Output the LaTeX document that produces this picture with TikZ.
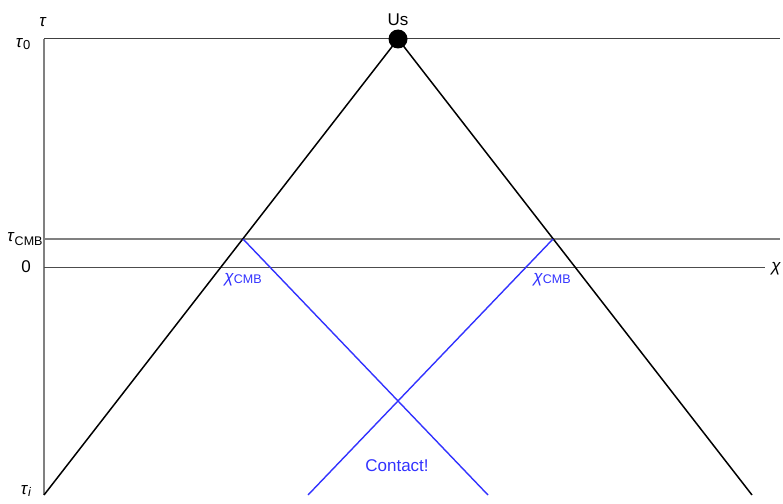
\documentclass[tikz,border=0pt]{standalone}
\usepackage{fontspec}
\setmainfont{Liberation Sans}
\begin{document}
\begin{tikzpicture}[x=1pt,y=-1pt,
  lbl/.style={font=\fontsize{17}{19}\selectfont, inner sep=0pt},
  blu/.style={draw={rgb,255:red,50;green,50;blue,255}, line width=1.4pt},
  worldline/.style={draw=black, line width=1.5pt},
  gridline/.style={draw=black!50, line width=1.1pt}]
\useasboundingbox (0,0) rectangle (783,503);
\definecolor{cblue}{RGB}{50,50,255}
% coordinates
\coordinate (axTop) at (44,39);
\coordinate (axBot) at (44,495);
\coordinate (t0R) at (780,39);
\coordinate (tcL) at (44,239);
\coordinate (tcR) at (780,239);
\coordinate (zL) at (44,267);
\coordinate (zR) at (765,267);
\coordinate (us) at (398,39);
\coordinate (botL) at (44,495);
\coordinate (botR) at (752,495);
\coordinate (pL) at (243,239);
\coordinate (pR) at (553,239);
\coordinate (bL) at (488,495);
\coordinate (bR) at (308,495);
% grid
\draw[gridline] (axTop) -- (axBot);
\draw[draw=black!75, line width=1pt] (axTop) -- (t0R);
\draw[gridline] (tcL) -- (tcR);
\draw[draw=black!70, line width=1pt] (zL) -- (zR);
% world lines
\draw[worldline] (us) -- (botL);
\draw[worldline] (us) -- (botR);
% blue
\draw[blu] (pL) -- (bL);
\draw[blu] (pR) -- (bR);
% dot
\fill[black] (us) circle (9.5);
% labels
\node[lbl] (lus) at (398,20) {Us};
\node[lbl] (ltau) at (43,22) {\textit{τ}};
\node[lbl] (lt0) at (23,44) {\textit{τ}\raisebox{-0.3ex}{\fontsize{13}{14}\selectfont 0}};
\node[lbl] (ltc) at (25,239) {\textit{τ}\raisebox{-0.35ex}{\fontsize{12.5}{14}\selectfont CMB}};
\node[lbl] (lz) at (26,267) {0};
\node[lbl] (lti) at (26,491) {\textit{τ}\raisebox{-0.3ex}{\fontsize{12.5}{14}\selectfont \textit{i}}};
\node[lbl] (lchi) at (776,269) {\textit{χ}};
\node[lbl, text=cblue] (lcl) at (243,280) {\textit{χ}\raisebox{-0.1ex}{\fontsize{12.5}{14}\selectfont CMB}};
\node[lbl, text=cblue] (lcr) at (552,280) {\textit{χ}\raisebox{-0.1ex}{\fontsize{12.5}{14}\selectfont CMB}};
\node[lbl, text=cblue] (lcon) at (397,466) {Contact!};
\end{tikzpicture}
\end{document}
